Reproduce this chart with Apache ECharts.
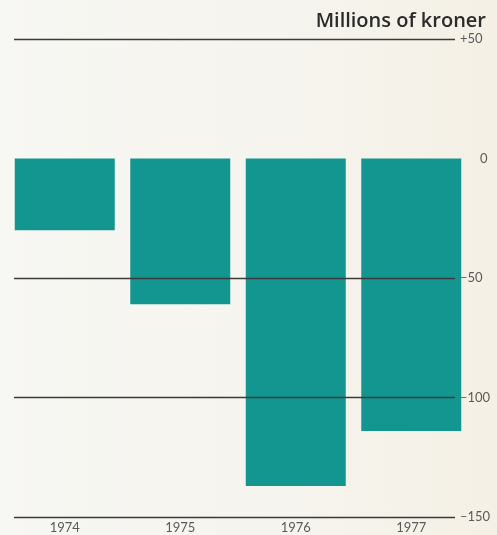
<!DOCTYPE html>
<html>
<head>
<meta charset="utf-8">
<script src="https://cdn.jsdelivr.net/npm/echarts@6/dist/echarts.min.js"></script>
<style>
  html, body { margin: 0; padding: 0; }
  body { width: 497px; height: 535px; background: linear-gradient(90deg, #f7f7f3 0%, #f6f4ee 60%, #f4f0e5 100%); }
  #chart { width: 497px; height: 535px; }
</style>
</head>
<body>
<div id="chart"></div>
<script>
// Annual balance, millions of kroner
const years = ['1974', '1975', '1976', '1977'];
const balance = [-30, -61, -137, -114];

// Value scale and its labels
const yMin = -150;
const yMax = 50;
const yStep = 50;
const tickLabels = { '-150': '\u2013150', '-100': '\u2013100', '-50': '\u201350', '0': '0', '50': '+50' };

const chart = echarts.init(document.getElementById('chart'), null, { renderer: 'canvas' });

const lineColor = '#3b3b3b';
const labelColor = '#5a5a5a';

chart.setOption({
  backgroundColor: 'transparent',
  animation: false,
  title: {
    text: 'Millions of kroner',
    right: 6,
    top: 6,
    textStyle: { fontFamily: 'Open Sans', fontSize: 20, fontWeight: 600, color: '#2b2b2b' }
  },
  grid: [
    { left: 7, width: 462, top: 39, height: 478 },
    { left: 14, width: 441, top: 39, height: 478 }
  ],
  xAxis: [
    {
      gridIndex: 0,
      type: 'category',
      data: years,
      axisLine: { show: false },
      axisTick: { show: false },
      axisLabel: { margin: 4, color: labelColor, fontFamily: 'Lato', fontSize: 13 }
    },
    { gridIndex: 1, type: 'value', show: false, min: 0, max: 1 }
  ],
  yAxis: [
    { gridIndex: 0, type: 'value', min: yMin, max: yMax, interval: yStep, show: false },
    {
      gridIndex: 1,
      type: 'value',
      position: 'right',
      min: yMin,
      max: yMax,
      interval: yStep,
      z: 4,
      axisLine: { show: false },
      axisTick: { show: false },
      axisLabel: {
        margin: 5,
        align: 'left',
        color: labelColor,
        fontFamily: 'Lato',
        fontSize: 13,
        formatter: function (v) {
          const t = tickLabels[String(v)];
          return v === 0 ? '{z|' + t + '}' : t;
        },
        rich: { z: { padding: [0, 0, 0, 20], color: labelColor, fontFamily: 'Lato', fontSize: 13 } }
      },
      splitLine: {
        show: true,
        lineStyle: {
          width: 1.4,
          // the zero line is left out; bars start there
          color: [lineColor, lineColor, lineColor, 'rgba(0,0,0,0)', lineColor]
        }
      }
    }
  ],
  series: [
    {
      type: 'bar',
      xAxisIndex: 0,
      yAxisIndex: 0,
      data: balance,
      barWidth: 100,
      z: 2,
      itemStyle: { color: '#139690' }
    }
  ]
});
</script>
</body>
</html>
